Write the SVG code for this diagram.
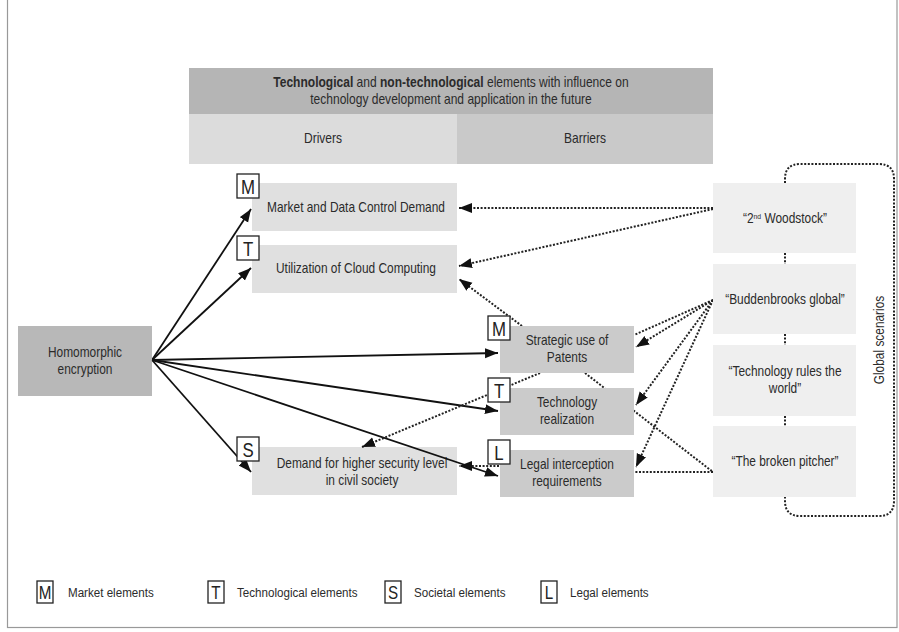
<svg xmlns="http://www.w3.org/2000/svg" width="899" height="632" viewBox="0 0 899 632">
<style>
text{font-family:"Liberation Sans",Arial,sans-serif;fill:#2b2b2b;font-size:14px;text-anchor:middle}
.drv{fill:#e0e0e0}
.bar{fill:#cbcbcb}
.scn{fill:#efefef}
.lab rect{fill:#fff;stroke:#222;stroke-width:1.3}
g.lab text{font-size:21px;fill:#222;text-anchor:middle}
.solid{stroke:#111;stroke-width:1.8;fill:none}
.dot{stroke:#222;stroke-width:2;stroke-dasharray:2 1.6;fill:none}
text.lt{text-anchor:start;font-size:13.5px}
g.sl text{font-size:19px}
</style>
<defs>
<marker id="ah" markerUnits="userSpaceOnUse" markerWidth="14" markerHeight="12" refX="13" refY="5" orient="auto">
<path d="M0,0 L13,5 L0,10 z" fill="#111"/>
</marker>
</defs>
<rect x="7.5" y="-1" width="889.5" height="628.5" fill="#fff" stroke="#999" stroke-width="1.2"/>

<g id="header">
<rect x="189" y="68" width="524" height="46" fill="#b5b5b5"/>
<rect x="189" y="114" width="268" height="50" fill="#dcdcdc"/>
<rect x="457" y="114" width="256" height="50" fill="#c9c9c9"/>
<text transform="translate(451,87) scale(0.86,1)" font-size="13.5"><tspan font-weight="bold">Technological</tspan> and <tspan font-weight="bold">non-technological</tspan> elements with influence on</text>
<text transform="translate(451,104) scale(0.86,1)" font-size="13.5">technology development and application in the future</text>
<text transform="translate(323,143) scale(0.86,1)">Drivers</text>
<text transform="translate(585,143) scale(0.86,1)">Barriers</text>
</g>

<g id="connectors">
<path class="solid" marker-end="url(#ah)" d="M152,360 L251,209"/>
<path class="solid" marker-end="url(#ah)" d="M152,360 L251,268"/>
<path class="solid" marker-end="url(#ah)" d="M152,360 L498,353"/>
<path class="solid" marker-end="url(#ah)" d="M152,360 L498,411"/>
<path class="solid" marker-end="url(#ah)" d="M152,360 L251,472"/>
<path class="dot" marker-end="url(#ah)" d="M713,208 L459,208"/>
<path class="dot" marker-end="url(#ah)" d="M713,209 L459,266"/>
<path class="dot" marker-end="url(#ah)" d="M522,326 L459,279"/>
<path class="dot" d="M585,373 L713,472"/>
<path class="dot" d="M713,300 L634,335"/>
<path class="dot" marker-end="url(#ah)" d="M713,300 L636,347"/>
<path class="dot" marker-end="url(#ah)" d="M713,300 L636,405"/>
<path class="dot" marker-end="url(#ah)" d="M713,300 L636,467"/>
<path class="dot" d="M713,472 L634,472"/>
<path class="dot" d="M785,253 V264 M785,334 V345 M785,416 V426"/>
<path class="dot" d="M785,183 V179 Q785,164 800,164 H879 Q894,164 894,179 V501 Q894,516 879,516 H800 Q785,516 785,501 V497"/>
</g>

<g id="homomorphic">
<rect x="18" y="326" width="134" height="70" fill="#b8b8b8"/>
<text transform="translate(85,357) scale(0.85,1)">Homomorphic</text>
<text transform="translate(85,374) scale(0.85,1)">encryption</text>
</g>

<g id="market">
<rect class="drv" x="252" y="183" width="205" height="48"/>
<text transform="translate(356,212) scale(0.85,1)">Market and Data Control Demand</text>
<g class="lab"><rect x="237" y="174" width="22" height="24"/><text transform="translate(248,194) scale(0.8,1)">M</text></g>
</g>

<g id="cloud">
<rect class="drv" x="252" y="245" width="205" height="48"/>
<text transform="translate(356,273) scale(0.85,1)">Utilization of Cloud Computing</text>
<g class="lab"><rect x="237" y="236" width="22" height="24"/><text transform="translate(248,256) scale(0.8,1)">T</text></g>
</g>

<g id="security">
<rect class="drv" x="252" y="447" width="205" height="48"/>
<text transform="translate(362,468) scale(0.85,1)">Demand for higher security level</text>
<text transform="translate(362,485) scale(0.85,1)">in civil society</text>
<g class="lab"><rect x="237" y="437" width="22" height="24"/><text transform="translate(248,457) scale(0.8,1)">S</text></g>
</g>

<g id="security-links">
<path class="solid" marker-end="url(#ah)" d="M152,360 L498,476"/>
<path class="dot" marker-end="url(#ah)" d="M540,373 L362,447"/>
<path class="dot" marker-end="url(#ah)" d="M499,466 L459,466"/>
</g>

<g id="patents">
<rect class="bar" x="500" y="326" width="134" height="47"/>
<text transform="translate(567,345) scale(0.85,1)">Strategic use of</text>
<text transform="translate(567,362) scale(0.85,1)">Patents</text>
<g class="lab"><rect x="488" y="316" width="22" height="24"/><text transform="translate(499,336) scale(0.8,1)">M</text></g>
</g>

<g id="realization">
<rect class="bar" x="500" y="388" width="134" height="47"/>
<text transform="translate(567,407) scale(0.85,1)">Technology</text>
<text transform="translate(567,424) scale(0.85,1)">realization</text>
<g class="lab"><rect x="488" y="378" width="22" height="24"/><text transform="translate(499,398) scale(0.8,1)">T</text></g>
</g>

<g id="legal">
<rect class="bar" x="500" y="450" width="134" height="47"/>
<text transform="translate(567,469) scale(0.85,1)">Legal interception</text>
<text transform="translate(567,486) scale(0.85,1)">requirements</text>
<g class="lab"><rect x="488" y="440" width="22" height="24"/><text transform="translate(499,460) scale(0.8,1)">L</text></g>
</g>

<g id="woodstock">
<rect class="scn" x="713" y="183" width="143" height="70"/>
<text transform="translate(785,223) scale(0.85,1)">“2<tspan font-size="8" dy="-4">nd</tspan><tspan dy="4"> Woodstock”</tspan></text>
</g>
<g id="buddenbrooks">
<rect class="scn" x="713" y="264" width="143" height="70"/>
<text transform="translate(785,304) scale(0.85,1)">“Buddenbrooks global”</text>
</g>
<g id="techrules">
<rect class="scn" x="713" y="345" width="143" height="71"/>
<text transform="translate(785,376) scale(0.85,1)">“Technology rules the</text>
<text transform="translate(785,393) scale(0.85,1)">world”</text>
</g>
<g id="pitcher">
<rect class="scn" x="713" y="426" width="143" height="71"/>
<text transform="translate(785,466) scale(0.85,1)">“The broken pitcher”</text>
</g>
<g id="global-label">
<text transform="translate(884,340) rotate(-90) scale(0.85,1)">Global scenarios</text>
</g>

<g id="legend">
<g class="lab sl"><rect x="37" y="581" width="16" height="22"/><text transform="translate(45,599) scale(0.8,1)">M</text></g>
<text class="lt" transform="translate(68,597) scale(0.86,1)">Market elements</text>
<g class="lab sl"><rect x="208" y="581" width="16" height="22"/><text transform="translate(216,599) scale(0.8,1)">T</text></g>
<text class="lt" transform="translate(237,597) scale(0.86,1)">Technological elements</text>
<g class="lab sl"><rect x="385" y="581" width="16" height="22"/><text transform="translate(393,599) scale(0.8,1)">S</text></g>
<text class="lt" transform="translate(414,597) scale(0.86,1)">Societal elements</text>
<g class="lab sl"><rect x="541" y="581" width="16" height="22"/><text transform="translate(549,599) scale(0.8,1)">L</text></g>
<text class="lt" transform="translate(570,597) scale(0.86,1)">Legal elements</text>
</g>
</svg>
